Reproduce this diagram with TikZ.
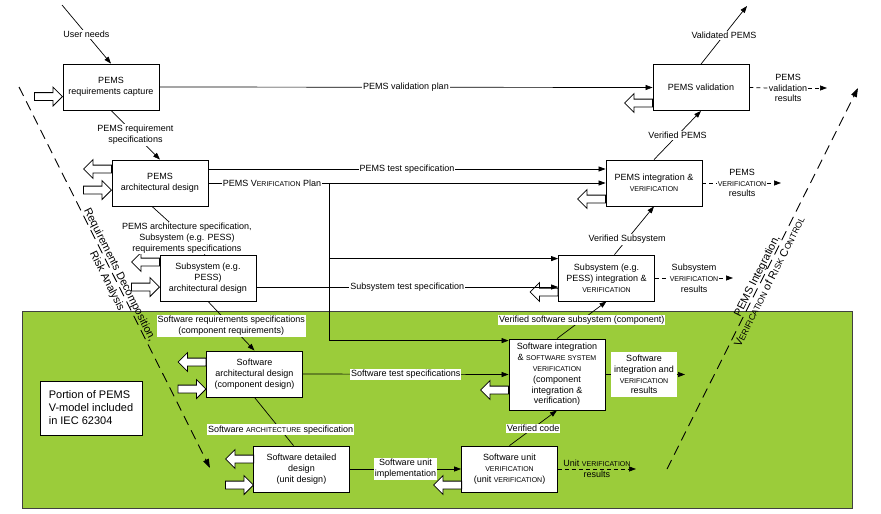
\documentclass[tikz,border=0pt]{standalone}
\usepackage{fontspec}
\setmainfont{Liberation Sans}
\usetikzlibrary{arrows.meta}
\usetikzlibrary{shapes.arrows}
\usetikzlibrary{positioning}
\definecolor{swgreen}{RGB}{155,204,58}
\newcommand{\smc}[1]{{\fontsize{7}{8}\selectfont #1}}
\newcommand{\smcl}[1]{{\fontsize{8.5}{10}\selectfont #1}}
\tikzset{
	stage/.style={draw=black, fill=white, line width=0.8pt, align=center,
		minimum width=96pt, minimum height=46pt, inner sep=2pt},
	lbl/.style={fill=white, align=center, inner sep=1.2pt},
	resultlbl/.style={align=center, inner sep=1pt},
	vlbl/.style={sloped, pos=0.5, font=\fontsize{11}{13}\selectfont},
	flow/.style={draw=black, line width=0.7pt, -{Triangle[length=7pt,width=5pt]}},
	flownotip/.style={draw=black, line width=0.7pt},
	resultline/.style={draw=black, line width=0.7pt, dash pattern=on 4pt off 3pt},
	resultarrow/.style={resultline, -{Triangle[length=7pt,width=5pt]}},
	vline/.style={draw=black, line width=0.9pt, dash pattern=on 10pt off 6pt,
		-{Triangle[length=9pt,width=6pt]}},
	inarrow/.style={single arrow, draw=black, fill=white, line width=0.8pt,
		inner sep=3.5pt, minimum height=28pt, single arrow head extend=5.5pt},
	outarrow/.style={inarrow, shape border rotate=180},
}

\begin{document}
\begin{tikzpicture}[x=1pt, y=-1pt, font=\fontsize{9}{10.8}\selectfont]
	\useasboundingbox (0,0) rectangle (881,514);
	% Software part (IEC 62304)
	\draw [draw=black!75, fill=swgreen, line width=0.8pt] (22,311) rectangle (852,508);
	\node [draw=black, fill=white, line width=0.8pt, align=left, minimum width=102pt,
		minimum height=54pt, font=\fontsize{11}{13}\selectfont] (portion) at (91,408)
		{Portion of PEMS\\V-model included\\in IEC 62304};
	% V-model sides
	\coordinate (ltop) at (19,87);
	\coordinate (lbot) at (210,468);
	\coordinate (rbot) at (667,469);
	\coordinate (rtop) at (858,88);
	\draw [vline] (ltop) -- node [vlbl, anchor=south, inner sep=0pt] (decomp) {Requirements Decomposition,}
		node [vlbl, anchor=north, inner sep=3pt] (riskan) {Risk Analysis} (lbot);
	\draw [vline] (rbot) -- node [vlbl, anchor=south, inner sep=0pt] (integ) {PEMS Integration,}
		node [vlbl, anchor=north, inner sep=3pt] (riskctl) {V\smcl{ERIFICATION} of R\smcl{ISK} C\smcl{ONTROL}} (rtop);
	% Left side stages
	\node [stage] (cap) at (111,87) {PEMS\\requirements capture};
	\node [stage] (pad) at (160,183) {PEMS\\architectural design};
	\node [stage] (ssad) at (208,278) {Subsystem (e.g.\\PESS)\\architectural design};
	\node [stage] (swad) at (254.5,374) {Software\\architectural design\\(component design)};
	\node [stage] (swdd) at (301.5,469) {Software detailed\\design\\(unit design)};
	% Right side stages
	\node [stage] (swuv) at (509.5,469) {Software unit\\\smc{VERIFICATION}\\(unit \smc{VERIFICATION})};
	\node [stage, minimum height=71pt] (swiv) at (557,374.5) {Software integration\\\& \smc{SOFTWARE SYSTEM}\\\smc{VERIFICATION}\\(component\\integration \&\\verification)};
	\node [stage] (ssiv) at (606.5,278) {Subsystem (e.g.\\PESS) integration \&\\\smc{VERIFICATION}};
	\node [stage] (piv) at (654,183) {PEMS integration \&\\\smc{VERIFICATION}};
	\node [stage] (pval) at (701,87.5) {PEMS validation};
	% Block arrows
	\node [inarrow, anchor=tip] (capin) at (63,96.5) {};
	\node [outarrow, anchor=tail] (padout) at (112,169) {};
	\node [inarrow, anchor=tip] (padin) at (112,190) {};
	\node [outarrow, anchor=tail] (ssadout) at (160,262) {};
	\node [inarrow, anchor=tip] (ssadin) at (160,287) {};
	\node [outarrow, anchor=tail] (swadout) at (206.5,362) {};
	\node [inarrow, anchor=tip] (swadin) at (206.5,389) {};
	\node [outarrow, anchor=tail] (swddout) at (254,459) {};
	\node [inarrow, anchor=tip] (swddin) at (254,485) {};
	\node [outarrow, anchor=tail] (swuvout) at (462,485) {};
	\node [outarrow, anchor=tail] (swivout) at (509,390) {};
	\node [outarrow, anchor=tail] (ssivout) at (558.5,292) {};
	\node [outarrow, anchor=tail] (pivout) at (606,199) {};
	\node [outarrow, anchor=tail] (pvalout) at (653,103) {};
	% Going down
	\coordinate (userneeds) at (62,5);
	\draw [flow] (userneeds) -- node [lbl] (unlbl) {User needs} (cap.north);
	\draw [flow] (cap.south) -- node [lbl] (prslbl) {PEMS requirement\\specifications} (pad.north);
	\draw [flownotip] ([xshift=-8]pad.south) -- node [lbl, pos=0.66] (paslbl)
		{PEMS architecture specification,\\Subsystem (e.g. PESS)\\requirements specifications} ([xshift=-3]ssad.north);
	\draw [flow] (ssad.south) -- node [lbl] (srslbl) {Software requirements specifications\\(component requirements)} (swad.north);
	\draw [flownotip] (swad.south) -- node [lbl, pos=0.67] (saslbl) {Software \smc{ARCHITECTURE} specification} ([xshift=-8]swdd.north);
	\draw [flow] (swdd.east) -- node [lbl] (implbl) {Software unit\\implementation} (swuv.west);
	% Going up
	\draw [flow] (swuv.north) -- node [lbl] (vclbl) {Verified code} (swiv.south);
	\draw [flow] (swiv.north) -- node [lbl] (vsslbl) {Verified software subsystem (component)} (ssiv.south);
	\draw [flow] ([xshift=8]ssiv.north) -- node [lbl, pos=0.32] (vsublbl) {Verified Subsystem} (piv.south);
	\draw [flow] (piv.north) -- node [lbl] (vplbl) {Verified PEMS} (pval.south);
	\coordinate (validated) at (747,6);
	\draw [flow] (pval.north) -- node [lbl] (valplbl) {Validated PEMS} (validated);
	% Plans and test specifications
	\draw [flow] (cap.east) -- node [lbl] (vplanlbl) {PEMS validation plan} (pval.west);
	\draw [flow] ([yshift=14]pad.east) -- node [lbl] (ptslbl) {PEMS test specification} ([yshift=14]piv.west);
	\coordinate (plansplit) at (329,183);
	\draw [flow] (plansplit) |- ([yshift=-4]ssiv.north west);
	\draw [flow] (plansplit) |- ([yshift=-2]swiv.north west);
	\draw [flow] (pad.east) -- node [lbl, pos=0.16] (planlbl) {PEMS V\smc{ERIFICATION} Plan} (piv.west);
	\draw [flow] ([yshift=-9]ssad.east) -- node [lbl] (stslbl) {Subsystem test specification} ([yshift=-9]ssiv.west);
	\draw [flow] (swad.east) -- node [lbl] (swtslbl) {Software test specifications} (swiv.west);
	% Results
	\node [resultlbl] (pvalres) at (788,88) {PEMS\\validation\\results};
	\coordinate (pvalend) at (827,88);
	\draw [resultline] (pval.east) -- (pvalres.west);
	\draw [resultarrow] (pvalres.east) -- (pvalend);
	\node [resultlbl] (pivres) at (742,183) {PEMS\\\smc{VERIFICATION}\\results};
	\coordinate (pivend) at (781,183);
	\draw [resultline] (piv.east) -- (pivres.west);
	\draw [resultarrow] (pivres.east) -- (pivend);
	\node [resultlbl] (ssivres) at (694,278) {Subsystem\\\smc{VERIFICATION}\\results};
	\coordinate (ssivend) at (733,278);
	\draw [resultline] (ssiv.east) -- (ssivres.west);
	\draw [resultarrow] (ssivres.east) -- (ssivend);
	\node [lbl, inner sep=3pt] (swivres) at (644,374.5) {Software\\integration and\\\smc{VERIFICATION}\\results};
	\coordinate (swivend) at (685,374.5);
	\draw [flownotip] (swiv.east) -- (swivres.west);
	\draw [flow] (swivres.east) -- (swivend);
	\coordinate (swuvend) at (636,469);
	\draw [resultarrow] (swuv.east) -- node [resultlbl, inner sep=0pt] (swuvres) {Unit \smc{VERIFICATION}\\results} (swuvend);
\end{tikzpicture}
\end{document}
